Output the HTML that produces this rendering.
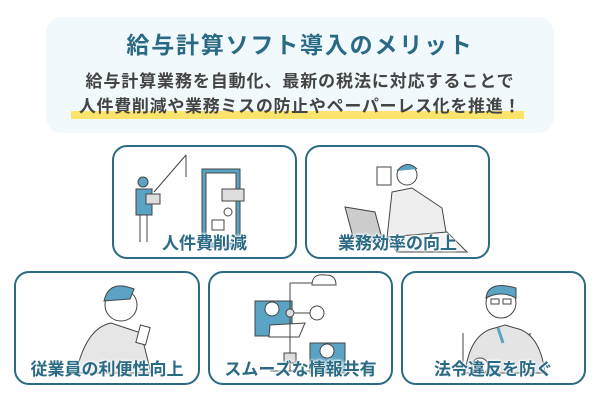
<!DOCTYPE html>
<html><head><meta charset="utf-8"><style>
body{margin:0;width:600px;height:400px;background:#fff;position:relative;overflow:hidden;font-family:"Liberation Sans","Noto Sans CJK JP",sans-serif}
.top{position:absolute;left:46px;top:17px;width:508px;height:116px;background:#f1f9fd;border-radius:16px}
.t{position:absolute;left:0;width:600px;text-align:center;font-weight:bold;white-space:nowrap}
.card{position:absolute;width:181px;height:112px;border:2.5px solid #2a6a85;border-radius:15px;box-sizing:border-box;background:#fff;overflow:hidden}
.lab{position:absolute;left:0;right:0;bottom:2px;text-align:center;color:#2a6a85;font-weight:bold;font-size:17px;line-height:22px;text-shadow:0 0 3px #fff,0 0 3px #fff,0 0 2px #fff}
svg{position:absolute;left:0;top:0}
</style></head><body>
<div class="top"></div>
<div class="t" style="top:31px;font-size:23px;line-height:28px;letter-spacing:1.8px;color:#2a6a85">給与計算ソフト導入のメリット</div>
<div style="position:absolute;left:71px;top:111px;width:453px;height:8px;background:#fbe36c"></div>
<div class="t" style="top:71px;font-size:17px;line-height:22px;letter-spacing:0.9px;color:#444">給与計算業務を自動化、最新の税法に対応することで</div>
<div class="t" style="top:96px;font-size:17px;line-height:22px;letter-spacing:0.7px;color:#444">人件費削減や業務ミスの防止やペーパーレス化を推進！</div>

<div class="card" style="left:112px;top:145px;width:185px;height:114px">
<svg width="185" height="114" stroke="#444" stroke-width="1" fill="none">
<line x1="40" y1="45" x2="72" y2="8"/><line x1="72" y1="8" x2="72" y2="30"/>
<rect x="88" y="22" width="38" height="78" fill="#5aa3c4"/><rect x="92" y="26" width="30" height="70" fill="#fff"/>
<rect x="108" y="42" width="22" height="12" fill="#ddd"/><circle cx="114" cy="65" r="4"/><rect x="98" y="73" width="12" height="10"/>
<circle cx="29" cy="35" r="5" fill="#5aa3c4"/><rect x="22" y="42" width="16" height="26" fill="#5aa3c4"/>
<line x1="26" y1="68" x2="26" y2="95"/><line x1="33" y1="68" x2="33" y2="95"/><rect x="32" y="47" width="14" height="10" fill="#ddd"/>
</svg><div class="lab">人件費削減</div></div>

<div class="card" style="left:305px;top:145px;width:185px;height:114px">
<svg width="185" height="114" stroke="#444" stroke-width="1" fill="none">
<rect x="70" y="20" width="14" height="18" fill="#fff"/>
<circle cx="100" cy="28" r="10" fill="#fff"/><path d="M90 24 q10 -12 20 -2" fill="#5aa3c4"/>
<path d="M85 45 l20 -4 30 20 5 30 -60 0z" fill="#eee"/>
<path d="M38 60 l30 5 8 30 -30 -5z" fill="#ccc"/><path d="M80 90 l60 -5 20 20 -70 0z" fill="#f4f4f4"/>
</svg><div class="lab">業務効率の向上</div></div>

<div class="card" style="left:14px;top:271px;width:186px;height:114px">
<svg width="186" height="114" stroke="#444" stroke-width="1" fill="none">
<circle cx="105" cy="32" r="16" fill="#fff"/><path d="M88 28 q5 -22 30 -12 l-4 10z" fill="#5aa3c4"/>
<path d="M60 100 q10 -45 35 -50 l30 10 10 40z" fill="#e6e6e6"/><rect x="122" y="53" width="10" height="18" fill="#fff" transform="rotate(15 127 62)"/>
</svg><div class="lab">従業員の利便性向上</div></div>

<div class="card" style="left:208px;top:271px;width:185px;height:114px">
<svg width="185" height="114" stroke="#444" stroke-width="1" fill="none">
<rect x="45" y="28" width="37" height="35" fill="#5aa3c4"/><rect x="100" y="70" width="35" height="30" fill="#5aa3c4"/>
<circle cx="62" cy="36" r="7" fill="#fff"/><circle cx="117" cy="78" r="7" fill="#fff"/>
<path d="M60 52 l35 -2 -6 14 -30 0z" fill="#fff"/>
<line x1="80" y1="10" x2="80" y2="98"/><line x1="80" y1="10" x2="115" y2="10"/><path d="M102 12 q0 -12 14 -10 q10 0 10 10z" fill="#fff"/>
<circle cx="80" cy="40" r="4" fill="#ddd"/><circle cx="107" cy="40" r="7" fill="#fff"/><line x1="84" y1="40" x2="100" y2="40"/>
<rect x="74" y="80" width="12" height="10" fill="#ddd"/><line x1="60" y1="98" x2="100" y2="98"/>
</svg><div class="lab">スムーズな情報共有</div></div>

<div class="card" style="left:401px;top:271px;width:185px;height:114px">
<svg width="185" height="114" stroke="#444" stroke-width="1" fill="none">
<path d="M60 60 l0 40 M127 60 l0 40"/>
<path d="M62 100 q5 -40 30 -45 l10 -3 10 3 q25 5 30 45z" fill="#e4e4e4"/>
<circle cx="98" cy="30" r="15" fill="#fff"/><path d="M83 25 q2 -18 30 -10 l0 10 q-15 -8 -30 0z" fill="#5aa3c4"/>
<rect x="88" y="26" width="8" height="5"/><rect x="100" y="26" width="8" height="5"/>
<line x1="95" y1="55" x2="100" y2="70" stroke="#5aa3c4" stroke-width="3"/>
<circle cx="77" cy="93" r="8" fill="#fff"/>
</svg><div class="lab">法令違反を防ぐ</div></div>
</body></html>
